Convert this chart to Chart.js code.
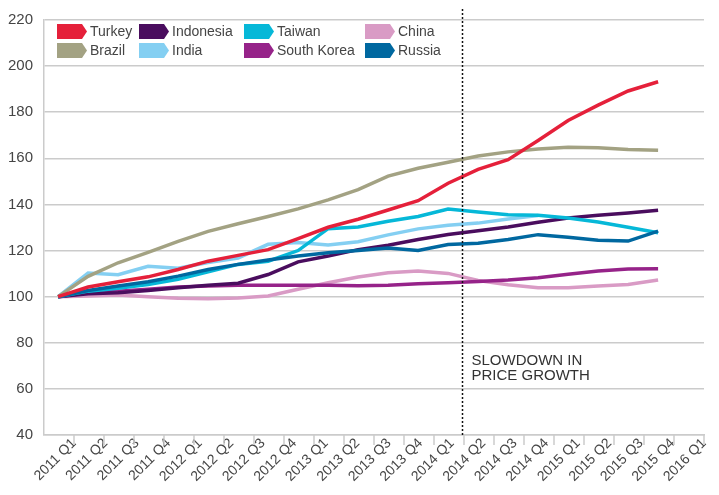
<!DOCTYPE html>
<html>
<head>
<meta charset="utf-8">
<script src="https://cdn.jsdelivr.net/npm/chart.js@4.4.1/dist/chart.umd.min.js"></script>
<style>
  html, body { margin: 0; padding: 0; background: #fff; }
  #chart { display: block; }
</style>
</head>
<body>
<canvas id="chart" width="719" height="495"></canvas>
<script>
// house price index, 2011 Q1 = 100
const QUARTERS = [
  '2011 Q1', '2011 Q2', '2011 Q3', '2011 Q4',
  '2012 Q1', '2012 Q2', '2012 Q3', '2012 Q4',
  '2013 Q1', '2013 Q2', '2013 Q3', '2013 Q4',
  '2014 Q1', '2014 Q2', '2014 Q3', '2014 Q4',
  '2015 Q1', '2015 Q2', '2015 Q3', '2015 Q4',
  '2016 Q1'
];

const TURKEY      = [100, 104.2, 106.5, 108.6, 111.8, 115.4, 117.9, 120.4, 125.2, 130.1, 133.6, 137.6, 141.6, 149.2, 155.2, 159.4, 167.7, 176.4, 183.1, 189.2, 193.2];
const BRAZIL      = [100, 108.8, 114.7, 119.2, 124.0, 128.3, 131.6, 134.8, 138.1, 142.0, 146.4, 152.3, 155.7, 158.3, 161.0, 162.8, 164.0, 164.8, 164.6, 163.8, 163.5];
const INDONESIA   = [100, 101.3, 101.7, 102.7, 103.9, 105.0, 105.8, 109.6, 115.1, 117.6, 120.4, 122.3, 124.8, 127.0, 128.6, 130.2, 132.3, 134.1, 135.3, 136.3, 137.5];
const INDIA       = [100, 110.3, 109.5, 113.2, 112.3, 114.8, 116.8, 122.7, 123.5, 122.4, 123.8, 126.8, 129.4, 131.0, 131.9, 133.7, 135.2, null, null, null, null];
const TAIWAN      = [100, 102.4, 103.6, 105.3, 107.5, 110.8, 114.0, 115.4, 120.0, 129.5, 130.2, 132.7, 134.8, 138.0, 136.7, 135.5, 135.3, 134.1, 132.4, 130.1, 127.7];
const SOUTH_KOREA = [100, 101.7, 102.4, 103.2, 104.2, 104.6, 104.9, 105.0, 104.9, 105.0, 104.7, 105.0, 105.6, 106.0, 106.6, 107.2, 108.2, 109.7, 111.1, 112.0, 112.1];
const CHINA       = [100, 100.3, 100.7, 100.0, 99.3, 99.1, 99.4, 100.3, 103.2, 106.0, 108.5, 110.4, 111.1, 110.1, 107.0, 105.2, 103.9, 103.9, 104.6, 105.3, 107.2];
const RUSSIA      = [100, 102.7, 104.6, 106.5, 108.9, 111.8, 114.0, 115.9, 117.6, 119.0, 120.0, 121.1, 120.0, 122.6, 123.2, 124.8, 126.9, 125.8, 124.5, 124.1, 128.4];

const Y_TICKS = [40, 60, 80, 100, 120, 140, 160, 180, 200, 220];

// legend reads column by column: Turkey/Brazil, Indonesia/India, ...
const SERIES = [
  { label: 'Turkey',      data: TURKEY,      color: '#E5203A', z: 0 },
  { label: 'Brazil',      data: BRAZIL,      color: '#A3A283', z: 1 },
  { label: 'Indonesia',   data: INDONESIA,   color: '#4A0D5E', z: 4 },
  { label: 'India',       data: INDIA,       color: '#84CFF2', z: 7 },
  { label: 'Taiwan',      data: TAIWAN,      color: '#06B8D8', z: 3 },
  { label: 'South Korea', data: SOUTH_KOREA, color: '#962389', z: 5 },
  { label: 'China',       data: CHINA,       color: '#D99BC5', z: 6 },
  { label: 'Russia',      data: RUSSIA,      color: '#0068A0', z: 2 }
];

const FONT = '"Liberation Sans", Arial, sans-serif';
const TEXT = '#454545';
const GRID = '#cbcbcb';

// tick marks sit about half a quarter to the right of each point,
// the labels are spread evenly from the first tick mark to the last one
const FIRST_TICK = 0.53;
const LABEL_STEP = QUARTERS.length / (QUARTERS.length - 1);
const SLOWDOWN_AT = 13.45;

const tickMarks = {
  id: 'tickMarks',
  afterDraw(chart) {
    const { ctx, chartArea } = chart;
    const x = chart.scales.x;
    ctx.save();
    ctx.strokeStyle = GRID;
    ctx.lineWidth = 1.5;
    for (let i = 0; i <= QUARTERS.length; i++) {
      const px = Math.round(x.getPixelForValue(FIRST_TICK + i));
      ctx.beginPath();
      ctx.moveTo(px, chartArea.bottom);
      ctx.lineTo(px, chartArea.bottom + 10);
      ctx.stroke();
    }
    ctx.restore();
  }
};

const slowdown = {
  id: 'slowdown',
  afterDatasetsDraw(chart) {
    const { ctx, chartArea } = chart;
    const px = Math.round(chart.scales.x.getPixelForValue(SLOWDOWN_AT)) + 0.5;
    const y80 = chart.scales.y.getPixelForValue(80);
    ctx.save();
    ctx.strokeStyle = '#111';
    ctx.lineWidth = 1.5;
    ctx.setLineDash([2, 2]);
    ctx.beginPath();
    ctx.moveTo(px, chartArea.top - 11);
    ctx.lineTo(px, chartArea.bottom);
    ctx.stroke();
    ctx.setLineDash([]);
    ctx.fillStyle = '#333';
    ctx.font = '15px ' + FONT;
    ctx.textAlign = 'left';
    ctx.textBaseline = 'alphabetic';
    ctx.fillText('SLOWDOWN IN', px + 9, y80 + 22);
    ctx.fillText('PRICE GROWTH', px + 9, y80 + 37);
    ctx.restore();
  }
};

// arrow-shaped swatches in a 4 x 2 grid, top left of the plot
const arrowLegend = {
  id: 'arrowLegend',
  afterDraw(chart) {
    const { ctx } = chart;
    const cols = [57, 139, 244, 365];
    const rows = [24, 43];
    ctx.save();
    ctx.font = '14px ' + FONT;
    ctx.textBaseline = 'middle';
    ctx.textAlign = 'left';
    SERIES.forEach((s, k) => {
      const mx = cols[Math.floor(k / 2)];
      const my = rows[k % 2];
      ctx.fillStyle = s.color;
      ctx.beginPath();
      ctx.moveTo(mx, my);
      ctx.lineTo(mx + 25, my);
      ctx.lineTo(mx + 30, my + 7.5);
      ctx.lineTo(mx + 25, my + 15);
      ctx.lineTo(mx, my + 15);
      ctx.closePath();
      ctx.fill();
      ctx.fillStyle = TEXT;
      ctx.fillText(s.label, mx + 33, my + 8.5);
    });
    ctx.restore();
  }
};

new Chart(document.getElementById('chart'), {
  type: 'line',
  data: {
    datasets: SERIES.map(s => ({
      label: s.label,
      data: s.data.map((v, i) => ({ x: i, y: v })),
      borderColor: s.color,
      backgroundColor: s.color,
      borderWidth: 3.5,
      pointRadius: 0,
      tension: 0,
      fill: false,
      order: s.z
    }))
  },
  options: {
    responsive: false,
    animation: false,
    events: [],
    layout: { padding: { top: 17, right: 15, left: 0, bottom: 0 } },
    plugins: {
      legend: { display: false },
      tooltip: { enabled: false }
    },
    scales: {
      x: {
        type: 'linear',
        min: FIRST_TICK - 1,
        max: FIRST_TICK + QUARTERS.length,
        afterBuildTicks: (scale) => {
          scale.ticks = QUARTERS.map((_, j) => ({ value: FIRST_TICK + j * LABEL_STEP }));
        },
        afterFit: (scale) => { scale.height = 60; },
        grid: { display: false, drawTicks: false },
        border: { color: GRID, width: 1.5 },
        ticks: {
          autoSkip: false,
          maxRotation: 45,
          minRotation: 45,
          padding: 0,
          color: TEXT,
          font: { family: FONT, size: 14 },
          callback: (v, i) => QUARTERS[i]
        }
      },
      y: {
        min: 40,
        max: 220,
        afterBuildTicks: (scale) => {
          scale.ticks = Y_TICKS.map(v => ({ value: v }));
        },
        afterFit: (scale) => { scale.width = 44; },
        grid: { color: GRID, lineWidth: 1.5, drawTicks: false },
        border: { color: GRID, width: 1.5 },
        ticks: {
          padding: 11,
          color: TEXT,
          font: { family: FONT, size: 15 }
        }
      }
    }
  },
  plugins: [tickMarks, slowdown, arrowLegend]
});
</script>
</body>
</html>
